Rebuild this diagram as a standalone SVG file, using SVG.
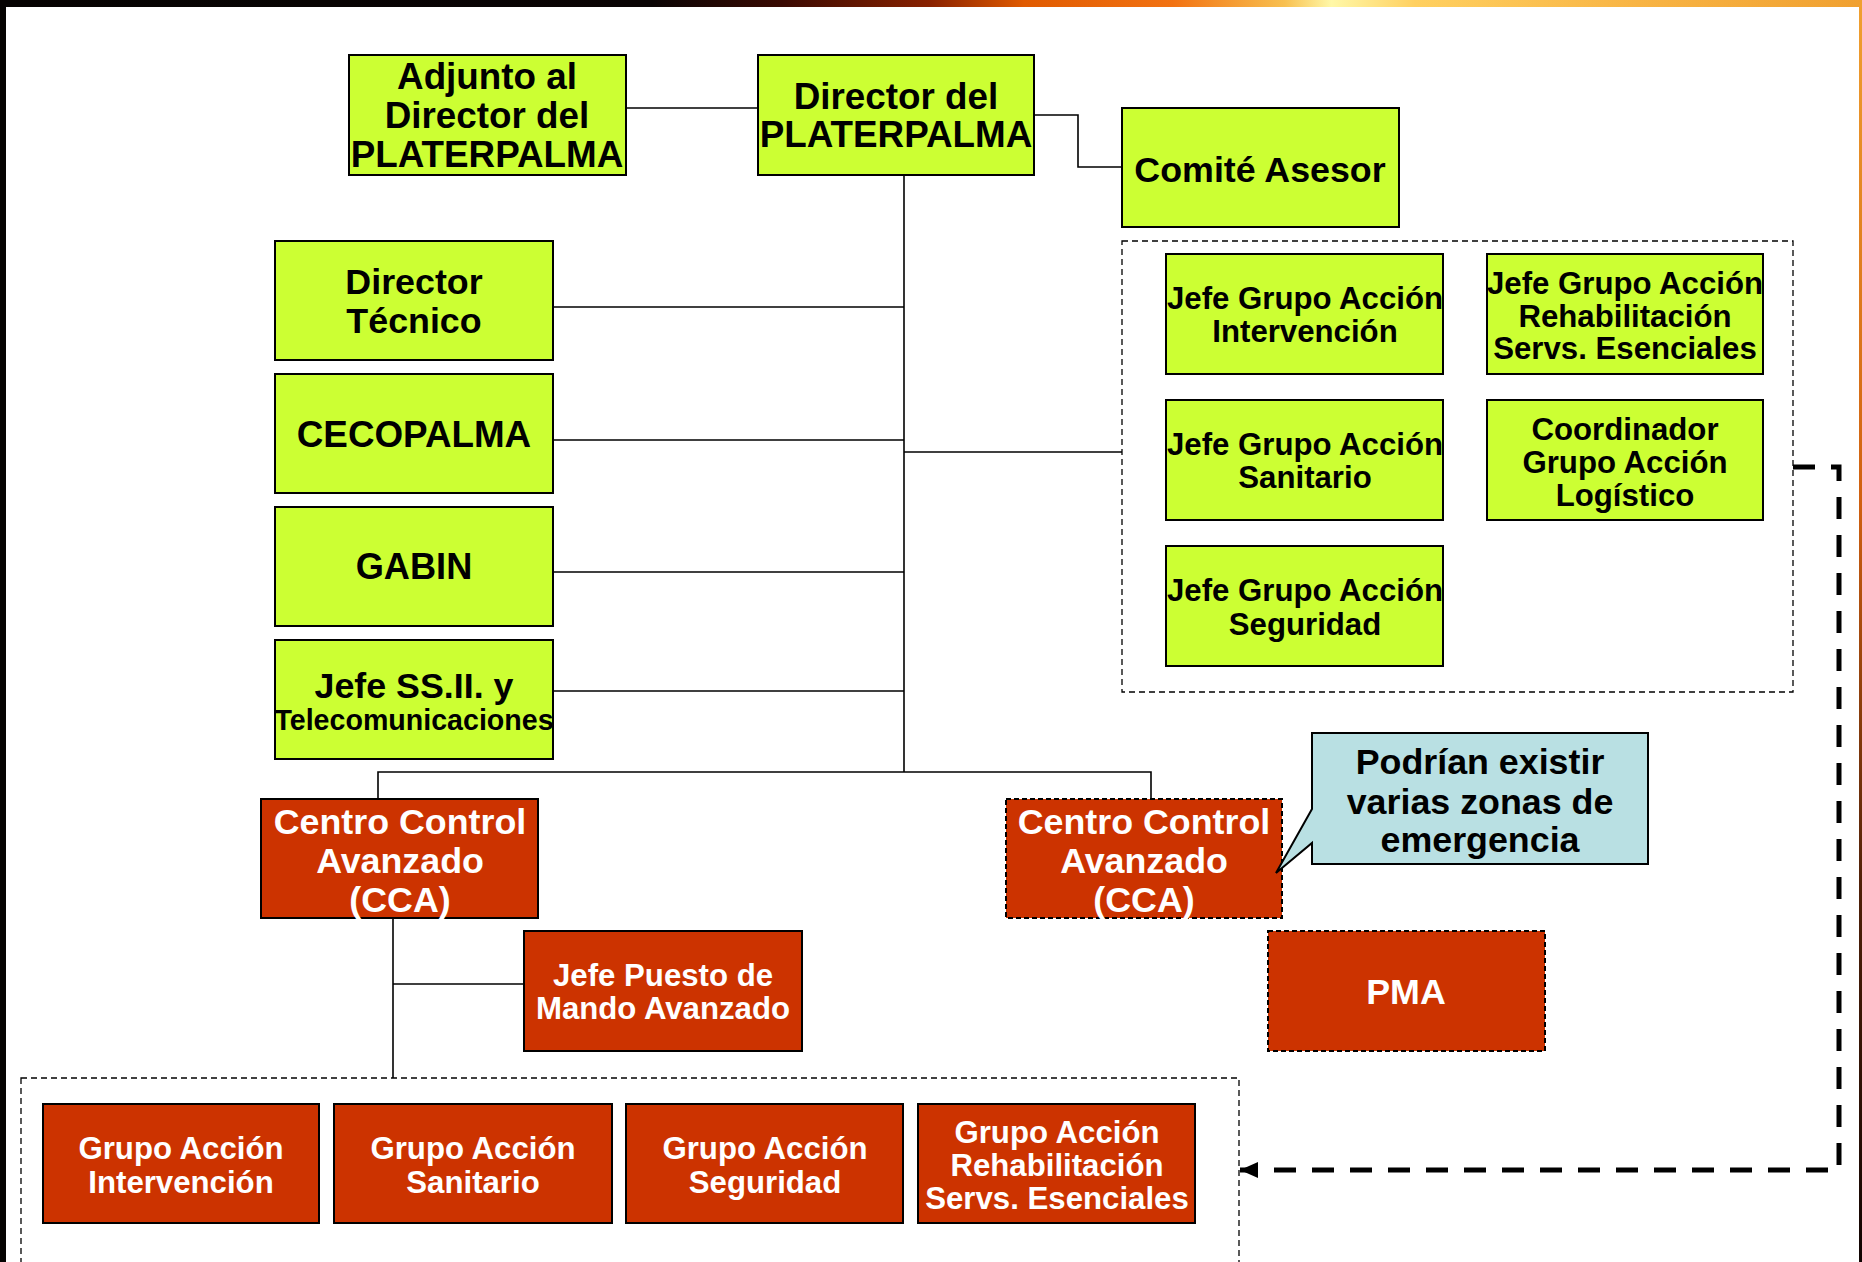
<svg xmlns="http://www.w3.org/2000/svg" width="1862" height="1262" viewBox="0 0 1862 1262">
<defs>
<linearGradient id="topg" x1="0" y1="0" x2="1862" y2="0" gradientUnits="userSpaceOnUse">
<stop offset="0" stop-color="#060302"/>
<stop offset="0.35" stop-color="#0a0404"/>
<stop offset="0.42" stop-color="#3a0a02"/>
<stop offset="0.5" stop-color="#8a2200"/>
<stop offset="0.55" stop-color="#E05A00"/>
<stop offset="0.63" stop-color="#F27212"/>
<stop offset="0.69" stop-color="#F8C050"/>
<stop offset="0.715" stop-color="#FFF8A8"/>
<stop offset="0.76" stop-color="#FFD060"/>
<stop offset="0.88" stop-color="#F8B444"/>
<stop offset="1" stop-color="#F0A030"/>
</linearGradient>
<linearGradient id="rightg" x1="0" y1="0" x2="0" y2="1262" gradientUnits="userSpaceOnUse">
<stop offset="0" stop-color="#F0A030"/>
<stop offset="0.4" stop-color="#D06010"/>
<stop offset="0.7" stop-color="#502008"/>
<stop offset="1" stop-color="#100402"/>
</linearGradient>
<marker id="arrow" markerUnits="userSpaceOnUse" markerWidth="18" markerHeight="16" viewBox="0 0 18 16" refX="18" refY="8" orient="auto">
<path d="M0,0 L18,8 L0,16 Z" fill="#000"/>
</marker>
<style>
.g{fill:#CCFF33;stroke:#000;stroke-width:2}
.r{fill:#CC3300;stroke:#000;stroke-width:2}
.rd{fill:#CC3300;stroke:#000;stroke-width:2;stroke-dasharray:5 3}
.cont{fill:none;stroke:#000;stroke-width:1.3;stroke-dasharray:6 4}
.tb{font-family:"Liberation Sans",Arial,sans-serif;font-weight:bold;fill:#000;text-anchor:middle}
.tw{font-family:"Liberation Sans",Arial,sans-serif;font-weight:bold;fill:#fff;text-anchor:middle}
.f35{font-size:35.8px}
.f37{font-size:36.8px}
.f31{font-size:31.2px}
.ln{fill:none;stroke:#000;stroke-width:1.6}
.big{fill:none;stroke:#000;stroke-width:5;stroke-dasharray:22 16}
</style>
</defs>

<g id="background">
<rect x="0" y="0" width="1862" height="1262" fill="#050302"/>
<rect x="1859" y="0" width="3" height="1262" fill="url(#rightg)"/>
<rect x="0" y="0" width="1862" height="7" fill="url(#topg)"/>
<rect x="6" y="7" width="1853" height="1255" fill="#fff"/>
</g>

<g id="containers">
<rect id="container-jefes" class="cont" x="1122" y="241" width="671" height="451"/>
<rect id="container-grupos" class="cont" x="21" y="1078" width="1218" height="200"/>
</g>

<g id="connectors">
<path class="ln" d="M626,108 H758"/>
<path class="ln" d="M1034,115 H1078 V167 H1122"/>
<path class="ln" d="M904,175 V772"/>
<path class="ln" d="M553,307 H904"/>
<path class="ln" d="M553,440 H904"/>
<path class="ln" d="M553,572 H904"/>
<path class="ln" d="M553,691 H904"/>
<path class="ln" d="M904,452 H1122"/>
<path class="ln" d="M378,799 V772 H1151 V799"/>
<path class="ln" d="M393,918 V1078"/>
<path class="ln" d="M393,984 H524"/>
<path class="big" d="M1793,467 H1839 V1170 H1240" marker-end="url(#arrow)"/>
</g>

<g id="adjunto">
<rect class="g" x="349" y="55" width="277" height="120"/>
<text class="tb f37" x="487" y="89">Adjunto al</text>
<text class="tb f37" x="487" y="128">Director del</text>
<text class="tb f37" x="487" y="167">PLATERPALMA</text>
</g>

<g id="director">
<rect class="g" x="758" y="55" width="276" height="120"/>
<text class="tb f37" x="896" y="109">Director del</text>
<text class="tb f37" x="896" y="147">PLATERPALMA</text>
</g>

<g id="comite">
<rect class="g" x="1122" y="108" width="277" height="119"/>
<text class="tb f35" x="1260" y="182">Comité Asesor</text>
</g>

<g id="director-tecnico">
<rect class="g" x="275" y="241" width="278" height="119"/>
<text class="tb f35" x="414" y="294">Director</text>
<text class="tb f35" x="414" y="333">Técnico</text>
</g>

<g id="cecopalma">
<rect class="g" x="275" y="374" width="278" height="119"/>
<text class="tb f37" x="414" y="447">CECOPALMA</text>
</g>

<g id="gabin">
<rect class="g" x="275" y="507" width="278" height="119"/>
<text class="tb" font-size="36.2" x="414" y="579">GABIN</text>
</g>

<g id="jefe-ssii">
<rect class="g" x="275" y="640" width="278" height="119"/>
<text class="tb f35" x="414" y="698">Jefe SS.II. y</text>
<text class="tb" font-size="28.6" x="414" y="730">Telecomunicaciones</text>
</g>

<g id="jefe-intervencion">
<rect class="g" x="1166" y="254" width="277" height="120"/>
<text class="tb f31" x="1305" y="309">Jefe Grupo Acción</text>
<text class="tb f31" x="1305" y="342">Intervención</text>
</g>

<g id="jefe-rehabilitacion">
<rect class="g" x="1487" y="254" width="276" height="120"/>
<text class="tb f31" x="1625" y="294">Jefe Grupo Acción</text>
<text class="tb f31" x="1625" y="327">Rehabilitación</text>
<text class="tb f31" x="1625" y="359">Servs. Esenciales</text>
</g>

<g id="jefe-sanitario">
<rect class="g" x="1166" y="400" width="277" height="120"/>
<text class="tb f31" x="1305" y="455">Jefe Grupo Acción</text>
<text class="tb f31" x="1305" y="488">Sanitario</text>
</g>

<g id="coordinador-logistico">
<rect class="g" x="1487" y="400" width="276" height="120"/>
<text class="tb f31" x="1625" y="440">Coordinador</text>
<text class="tb f31" x="1625" y="473">Grupo Acción</text>
<text class="tb f31" x="1625" y="506">Logístico</text>
</g>

<g id="jefe-seguridad">
<rect class="g" x="1166" y="546" width="277" height="120"/>
<text class="tb f31" x="1305" y="601">Jefe Grupo Acción</text>
<text class="tb f31" x="1305" y="635">Seguridad</text>
</g>

<g id="cca-1">
<rect class="r" x="261" y="799" width="277" height="119"/>
<text class="tw f35" x="400" y="834">Centro Control</text>
<text class="tw f35" x="400" y="873">Avanzado</text>
<text class="tw f35" x="400" y="912">(CCA)</text>
</g>

<g id="cca-2">
<rect class="rd" x="1006" y="799" width="276" height="119"/>
<text class="tw f35" x="1144" y="834">Centro Control</text>
<text class="tw f35" x="1144" y="873">Avanzado</text>
<text class="tw f35" x="1144" y="912">(CCA)</text>
</g>

<g id="callout">
<path d="M1312,733 H1648 V864 H1312 V843 L1276,873 L1312,809 Z" fill="#B9E0E3" stroke="#000" stroke-width="2"/>
<text class="tb f35" x="1480" y="774">Podrían existir</text>
<text class="tb f35" x="1480" y="814">varias zonas de</text>
<text class="tb f35" x="1480" y="852">emergencia</text>
</g>

<g id="jefe-pma">
<rect class="r" x="524" y="931" width="278" height="120"/>
<text class="tw f31" x="663" y="986">Jefe Puesto de</text>
<text class="tw f31" x="663" y="1019">Mando Avanzado</text>
</g>

<g id="pma">
<rect class="rd" x="1268" y="931" width="277" height="120"/>
<text class="tw f35" x="1406" y="1004">PMA</text>
</g>

<g id="grupo-intervencion">
<rect class="r" x="43" y="1104" width="276" height="119"/>
<text class="tw f31" x="181" y="1159">Grupo Acción</text>
<text class="tw f31" x="181" y="1193">Intervención</text>
</g>

<g id="grupo-sanitario">
<rect class="r" x="334" y="1104" width="278" height="119"/>
<text class="tw f31" x="473" y="1159">Grupo Acción</text>
<text class="tw f31" x="473" y="1193">Sanitario</text>
</g>

<g id="grupo-seguridad">
<rect class="r" x="626" y="1104" width="277" height="119"/>
<text class="tw f31" x="765" y="1159">Grupo Acción</text>
<text class="tw f31" x="765" y="1193">Seguridad</text>
</g>

<g id="grupo-rehabilitacion">
<rect class="r" x="918" y="1104" width="277" height="119"/>
<text class="tw f31" x="1057" y="1143">Grupo Acción</text>
<text class="tw f31" x="1057" y="1176">Rehabilitación</text>
<text class="tw f31" x="1057" y="1209">Servs. Esenciales</text>
</g>
</svg>
